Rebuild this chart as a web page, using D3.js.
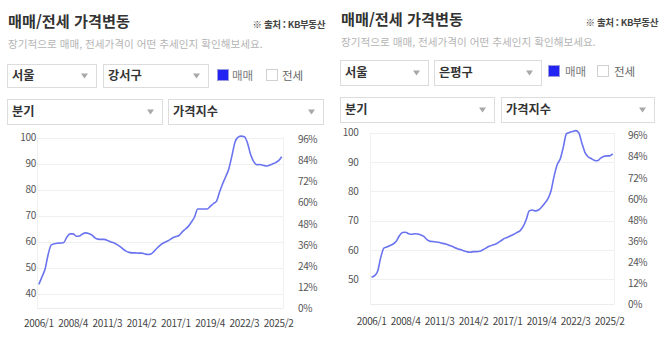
<!DOCTYPE html>
<html lang="ko">
<head>
<meta charset="utf-8">
<script src="https://cdn.jsdelivr.net/npm/d3@7/dist/d3.min.js"></script>
<style>
  html, body { margin: 0; padding: 0; background: #fff; }
  svg { display: block; font-family: "Noto Sans CJK KR", "Noto Sans", sans-serif; }
</style>
</head>
<body>
<svg id="chart" width="670" height="337"></svg>
<script>
// Quarterly categories, 2006 Q1 through 2025 Q3
const quarters = [
  "2006/1","2006/2","2006/3","2006/4","2007/1","2007/2","2007/3","2007/4",
  "2008/1","2008/2","2008/3","2008/4","2009/1","2009/2","2009/3","2009/4",
  "2010/1","2010/2","2010/3","2010/4","2011/1","2011/2","2011/3","2011/4",
  "2012/1","2012/2","2012/3","2012/4","2013/1","2013/2","2013/3","2013/4",
  "2014/1","2014/2","2014/3","2014/4","2015/1","2015/2","2015/3","2015/4",
  "2016/1","2016/2","2016/3","2016/4","2017/1","2017/2","2017/3","2017/4",
  "2018/1","2018/2","2018/3","2018/4","2019/1","2019/2","2019/3","2019/4",
  "2020/1","2020/2","2020/3","2020/4","2021/1","2021/2","2021/3","2021/4",
  "2022/1","2022/2","2022/3","2022/4","2023/1","2023/2","2023/3","2023/4",
  "2024/1","2024/2","2024/3","2024/4","2025/1","2025/2","2025/3"
];

// 강서구 매매 가격지수
const gangseoIndex = [
  43.6, 46.5, 49.5, 55.2, 58.8, 59.2, 59.4, 59.5, 59.7, 61.8,
  63.0, 63.0, 62.1, 62.2, 63.0, 63.4, 63.2, 62.6, 61.5, 61.0,
  60.9, 60.9, 60.5, 60.0, 59.6, 59.0, 58.2, 57.2, 56.4, 55.9,
  55.7, 55.7, 55.6, 55.6, 55.3, 55.1, 55.3, 56.3, 57.6, 58.7,
  59.5, 60.1, 60.7, 61.5, 62.0, 62.4, 63.7, 64.8, 65.9, 67.6,
  69.5, 72.6, 72.6, 72.6, 72.6, 73.5, 74.6, 75.5, 79.0, 82.2,
  85.0, 88.0, 93.0, 98.3, 100.2, 100.6, 100.4, 98.0, 93.5, 90.8,
  89.6, 89.7, 89.4, 89.1, 89.4, 89.9, 90.4, 91.2, 92.7
];

// 은평구 매매 가격지수
const eunpyeongIndex = [
  50.6, 51.2, 52.8, 57.5, 60.6, 61.0, 61.5, 62.0, 62.9, 64.8,
  65.9, 66.0, 65.5, 65.3, 65.5, 65.4, 65.1, 64.5, 63.4, 62.9,
  62.8, 62.7, 62.5, 62.2, 62.0, 61.6, 61.2, 60.7, 60.3, 60.0,
  59.6, 59.3, 59.2, 59.4, 59.4, 59.5, 60.0, 60.6, 61.2, 61.6,
  61.9, 62.5, 63.2, 63.9, 64.3, 64.8, 65.3, 65.9, 66.5, 67.9,
  70.3, 73.3, 73.6, 73.3, 73.6, 74.6, 75.9, 77.4, 80.0, 85.0,
  89.0, 91.0, 95.0, 99.6, 100.1, 100.4, 100.7, 100.0, 96.5, 93.3,
  91.8, 91.2, 90.6, 90.4, 91.2, 91.9, 92.1, 92.1, 92.8
];

// Axis tick labels
const xTickLabels = ["2006/1","2008/4","2011/3","2014/2","2017/1","2019/4","2022/3","2025/2"];
const gangseoTicks = [40, 50, 60, 70, 80, 90, 100];
const eunpyeongTicks = [50, 60, 70, 80, 90, 100];
const percentTicks = [0, 12, 24, 36, 48, 60, 72, 84, 96];

// Header / control texts
const titleText = "매매/전세 가격변동";
const sourceText = "※ 출처 : KB부동산";
const subtitleText = "장기적으로 매매, 전세가격이 어떤 추세인지 확인해보세요.";

const svg = d3.select("#chart");
svg.append("rect").attr("width", 670).attr("height", 337).attr("fill", "#fff");

const panels = [
  {
    district: "강서구", values: gangseoIndex, ticks: gangseoTicks,
    ox: 0, titleY: 27, sourceX: 325, sourceY: 28, subY: 47.5,
    row1: { y: 64, h: 23, boxes: [[7, 96], [103, 208]] },
    row2: { y: 99, h: 25, boxes: [[7, 162], [168, 323]] },
    check: { y: 69, blue: 217, lab1: 232, empty: 266, lab2: 282 },
    plot: { x0: 37.3, x1: 283.3, yTop: 137.7, yBot: 308.3, vMin: 34.4, vMax: 100,
            pTop: 139.4, labelY: 324, leftLabX: 36, rightLabX: 298 }
  },
  {
    district: "은평구", values: eunpyeongIndex, ticks: eunpyeongTicks,
    ox: 333, titleY: 25, sourceX: 658, sourceY: 25.5, subY: 46,
    row1: { y: 60, h: 25, boxes: [[340, 428], [434, 541]] },
    row2: { y: 97, h: 25, boxes: [[340, 494], [501, 654]] },
    check: { y: 65, blue: 548, lab1: 565, empty: 597, lab2: 614 },
    plot: { x0: 370, x1: 614.3, yTop: 132.7, yBot: 304.3, vMin: 41.4, vMax: 100,
            pTop: 135.7, labelY: 322, leftLabX: 358.5, rightLabX: 628 }
  }
];

function dropdown(g, x0, x1, y, h, label) {
  g.append("rect")
    .attr("x", x0 + 0.5).attr("y", y + 0.5)
    .attr("width", x1 - x0).attr("height", h)
    .attr("fill", "#fff").attr("stroke", "#dcdcdc");
  g.append("text")
    .attr("x", x0 + 5).attr("y", y + h / 2 + 4.4)
    .attr("font-size", 12.2).attr("font-weight", 700).attr("fill", "#333")
    .text(label);
  g.append("path")
    .attr("d", `M${x1 - 15},${y + h / 2 - 2} l7,0 l-3.5,5 z`)
    .attr("fill", "#a8a8a8");
}

panels.forEach(p => {
  const g = svg.append("g");
  const lx = p.ox + 8;

  // Header
  g.append("text").attr("x", lx).attr("y", p.titleY)
    .attr("font-size", 15.2).attr("font-weight", 700).attr("fill", "#333")
    .text(titleText);
  g.append("text").attr("x", p.sourceX).attr("y", p.sourceY)
    .attr("text-anchor", "end")
    .attr("font-size", 9.5).attr("font-weight", 700).attr("fill", "#444")
    .attr("letter-spacing", -0.4)
    .text(sourceText);
  g.append("text").attr("x", lx).attr("y", p.subY)
    .attr("font-size", 10.6).attr("fill", "#b4b4b4")
    .text(subtitleText);

  // Controls
  const r1 = p.row1, r2 = p.row2;
  dropdown(g, r1.boxes[0][0], r1.boxes[0][1], r1.y, r1.h, "서울");
  dropdown(g, r1.boxes[1][0], r1.boxes[1][1], r1.y, r1.h, p.district);
  dropdown(g, r2.boxes[0][0], r2.boxes[0][1], r2.y, r2.h, "분기");
  dropdown(g, r2.boxes[1][0], r2.boxes[1][1], r2.y, r2.h, "가격지수");

  const c = p.check;
  g.append("rect").attr("x", c.blue + 0.5).attr("y", c.y + 0.5).attr("width", 11).attr("height", 11)
    .attr("fill", "#2424f2").attr("stroke", "#9a9adf");
  g.append("text").attr("x", c.lab1).attr("y", c.y + 10.5)
    .attr("font-size", 11.5).attr("fill", "#7a7a7a").text("매매");
  g.append("rect").attr("x", c.empty + 0.5).attr("y", c.y + 0.5).attr("width", 11).attr("height", 11)
    .attr("fill", "#fff").attr("stroke", "#d0d0d0");
  g.append("text").attr("x", c.lab2).attr("y", c.y + 10.5)
    .attr("font-size", 11.5).attr("fill", "#666").text("전세");

  // Scales
  const pl = p.plot;
  const x = d3.scaleBand().domain(quarters).range([pl.x0, pl.x1]);
  const xc = q => x(q) + x.bandwidth() / 2;
  const y = d3.scaleLinear().domain([pl.vMin, pl.vMax]).range([pl.yBot, pl.yTop]);
  const yPct = d3.scaleLinear().domain([0, 96]).range([pl.yBot, pl.pTop]);

  // Grid
  g.append("g").selectAll("line").data(p.ticks).join("line")
    .attr("x1", pl.x0).attr("x2", pl.x1)
    .attr("y1", d => Math.round(y(d)) + 0.5).attr("y2", d => Math.round(y(d)) + 0.5)
    .attr("stroke", "#f0f0f0");
  g.append("line").attr("x1", pl.x0).attr("x2", pl.x1)
    .attr("y1", Math.round(pl.yBot) + 0.5).attr("y2", Math.round(pl.yBot) + 0.5)
    .attr("stroke", "#ececec");
  [pl.x0, pl.x1].forEach(xx => {
    g.append("line").attr("x1", Math.round(xx) + 0.5).attr("x2", Math.round(xx) + 0.5)
      .attr("y1", pl.yTop).attr("y2", pl.yBot).attr("stroke", "#f0f0f0");
  });

  const axisFont = "'Noto Sans CJK KR', sans-serif";

  // Left axis (index values)
  const leftAxis = d3.axisLeft(y).tickValues(p.ticks).tickSize(0).tickPadding(0);
  const la = g.append("g").attr("transform", `translate(${pl.leftLabX},0)`).call(leftAxis);
  la.select(".domain").remove();
  la.selectAll("text").attr("font-size", 10).attr("fill", "#555")
    .attr("letter-spacing", -0.3).attr("font-family", axisFont);

  // Right axis (percent)
  const rightAxis = d3.axisRight(yPct).tickValues(percentTicks).tickSize(0).tickPadding(0)
    .tickFormat(d => d + "%");
  const ra = g.append("g").attr("transform", `translate(${pl.rightLabX},0)`).call(rightAxis);
  ra.select(".domain").remove();
  ra.selectAll("text").attr("font-size", 10).attr("fill", "#555")
    .attr("letter-spacing", -0.4).attr("font-family", axisFont);

  // Bottom axis (quarters)
  const bottomAxis = d3.axisBottom(x).tickValues(xTickLabels).tickSize(0).tickPadding(0);
  const ba = g.append("g").attr("transform", `translate(0,${pl.labelY - 4})`).call(bottomAxis);
  ba.select(".domain").remove();
  ba.selectAll("text").attr("font-size", 10).attr("fill", "#444").attr("dy", "0.71em")
    .attr("letter-spacing", -0.35).attr("font-family", axisFont);

  // Index line
  const line = d3.line()
    .x((d, i) => xc(quarters[i]))
    .y(d => y(d))
    .curve(d3.curveMonotoneX);
  g.append("path").datum(p.values)
    .attr("d", line)
    .attr("fill", "none")
    .attr("stroke", "#6b74ef")
    .attr("stroke-width", 1.6)
    .attr("stroke-linejoin", "round");
});
</script>
</body>
</html>
